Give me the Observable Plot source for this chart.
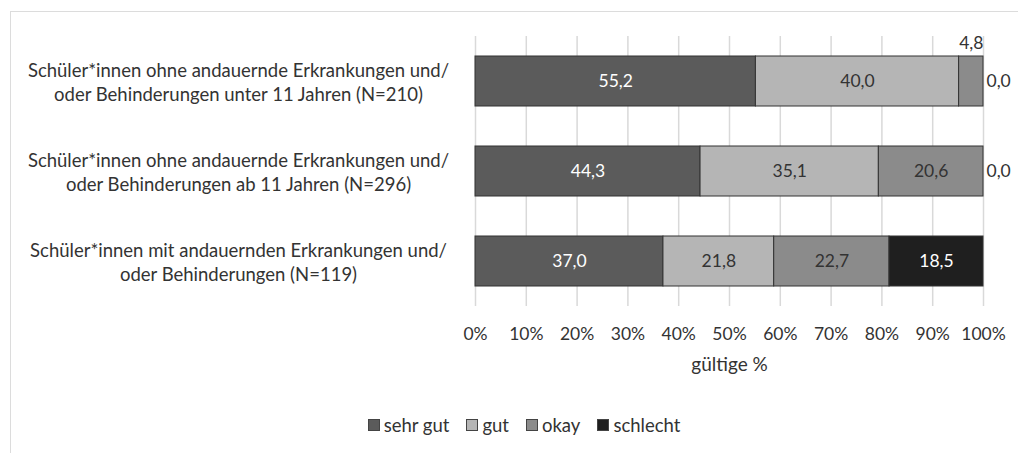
<!DOCTYPE html>
<html>
<head>
<meta charset="utf-8">
<script src="https://cdn.jsdelivr.net/npm/d3@7"></script>
<script src="https://cdn.jsdelivr.net/npm/@observablehq/plot@0.6"></script>
<style>
  body { margin: 0; background: #fff; font-family: Lato, "Open Sans", sans-serif; }
  #frame { position: absolute; left: 10px; top: 11px; width: 1010px; height: 460px; border: 1px solid #dcdcdc; box-sizing: border-box; }
  #chart { position: absolute; left: 0; top: 0; }
  #legend { position: absolute; left: 0; top: 414px; width: 1018px; display: flex; justify-content: center; padding-left: 30px; box-sizing: border-box; gap: 17px; font-size: 18.5px; color: #333; }
  #legend .item { display: flex; align-items: center; gap: 4px; }
  #legend .sw { width: 10px; height: 10px; border: 1px solid #444; }
</style>
</head>
<body>
<div id="frame"></div>
<div id="chart"></div>
<div id="legend"></div>
<script>
const groups = [
  "Schüler*innen ohne andauernde Erkrankungen und/\noder Behinderungen unter 11 Jahren (N=210)",
  "Schüler*innen ohne andauernde Erkrankungen und/\noder Behinderungen ab 11 Jahren (N=296)",
  "Schüler*innen mit andauernden Erkrankungen und/\noder Behinderungen (N=119)"
];
const categories = ["sehr gut", "gut", "okay", "schlecht"];
const colors = ["#5b5b5b", "#b5b5b5", "#8b8b8b", "#1f1f1f"];
const textColors = ["#ffffff", "#333333", "#333333", "#ffffff"];
const values = [
  [55.2, 40.0, 4.8, 0.0],
  [44.3, 35.1, 20.6, 0.0],
  [37.0, 21.8, 22.7, 18.5]
];
const xTicks = [0, 10, 20, 30, 40, 50, 60, 70, 80, 90, 100];

const data = [];
groups.forEach((g, i) => categories.forEach((c, j) => data.push({
  group: g, cat: c, value: values[i][j], order: j,
  label: values[i][j].toFixed(1).replace(".", ","), tc: textColors[j]
})));

const stackOpts = {x: "value", y: "group", z: "cat", order: categories};

const chart = Plot.plot({
  width: 1018,
  height: 380,
  marginLeft: 475,
  marginRight: 35,
  marginTop: 36,
  marginBottom: 74,
  style: {fontFamily: "Lato, 'Open Sans', sans-serif", fontSize: "17px", color: "#333"},
  x: {domain: [0, 100]},
  y: {domain: groups, paddingInner: 0.44, paddingOuter: 0.22},
  color: {domain: categories, range: colors},
  marks: [
    Plot.gridX(xTicks, {stroke: "#d9d9d9", strokeOpacity: 1, strokeWidth: 1.5}),
    Plot.barX(data, Plot.stackX({...stackOpts, fill: "cat", stroke: d => d.value > 0 ? "#333" : "none", strokeWidth: 1})),
    Plot.text(data, Plot.stackX({...stackOpts, text: d => d.value >= 10 ? d.label : null, fill: "tc", fontSize: 17.5})),
    Plot.text(data, Plot.stackX({...stackOpts, text: d => d.value > 0 && d.value < 10 ? d.label : null, fill: "#333", fontSize: 17.5, dy: -38})),
    Plot.text(data, Plot.stackX2({...stackOpts, text: d => d.value === 0 && d.order === 3 ? d.label : null, fill: "#333", fontSize: 17.5, textAnchor: "start", dx: 3})),
    Plot.axisX(xTicks, {tickSize: 0, tickPadding: 21, tickFormat: d => d + "%", label: null, fill: "#333", fontSize: 17.5}),
    Plot.axisX([], {tickSize: 0, label: "gültige %", labelAnchor: "center", labelArrow: "none", labelOffset: 64, fill: "#333", fontSize: 19}),
    Plot.axisY({tickSize: 0, tickPadding: 237, textAnchor: "middle", label: null, fill: "#333", fontSize: 18.5, lineHeight: 1.3})
  ]
});
document.getElementById("chart").appendChild(chart);

const legend = document.getElementById("legend");
categories.forEach((c, i) => {
  const item = document.createElement("div");
  item.className = "item";
  const sw = document.createElement("div");
  sw.className = "sw";
  sw.style.background = colors[i];
  const t = document.createElement("span");
  t.textContent = c;
  item.appendChild(sw);
  item.appendChild(t);
  legend.appendChild(item);
});
</script>
</body>
</html>
